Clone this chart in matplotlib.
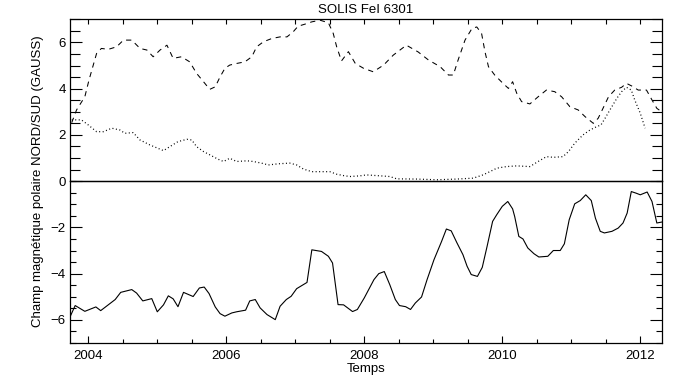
import matplotlib
matplotlib.use('Agg')
import matplotlib.pyplot as plt
from matplotlib.ticker import MultipleLocator

# Data (time in decimal years, field in gauss)
t_south = [2003.74, 2003.81, 2003.95, 2004.11, 2004.18, 2004.39, 2004.47, 2004.63, 2004.70,
           2004.79, 2004.92, 2005.00, 2005.09, 2005.16, 2005.23, 2005.30, 2005.38, 2005.52,
           2005.61, 2005.68, 2005.75, 2005.84, 2005.91, 2005.98, 2006.08, 2006.15, 2006.28,
           2006.34, 2006.42, 2006.49, 2006.59, 2006.71, 2006.78, 2006.87, 2006.94, 2007.02,
           2007.17, 2007.24, 2007.38, 2007.48, 2007.54, 2007.62, 2007.70, 2007.83, 2007.90,
           2008.00, 2008.14, 2008.21, 2008.29, 2008.37, 2008.45, 2008.51, 2008.60, 2008.67,
           2008.74, 2008.83, 2008.91, 2009.01, 2009.12, 2009.19, 2009.26, 2009.34, 2009.43,
           2009.49, 2009.55, 2009.64, 2009.71, 2009.78, 2009.86, 2009.92, 2010.00, 2010.08,
           2010.15, 2010.18, 2010.24, 2010.30, 2010.37, 2010.46, 2010.53, 2010.66, 2010.74,
           2010.84, 2010.90, 2010.97, 2011.05, 2011.13, 2011.21, 2011.29, 2011.35, 2011.42,
           2011.48, 2011.59, 2011.68, 2011.75, 2011.81, 2011.87, 2011.94, 2012.00, 2012.10,
           2012.17, 2012.24, 2012.31]
b_south = [-5.84, -5.38, -5.63, -5.44, -5.60, -5.12, -4.81, -4.69, -4.84,
           -5.18, -5.08, -5.65, -5.35, -4.96, -5.09, -5.43, -4.81, -4.99,
           -4.62, -4.58, -4.86, -5.44, -5.73, -5.84, -5.70, -5.65, -5.58,
           -5.18, -5.12, -5.48, -5.77, -5.99, -5.41, -5.12, -4.98, -4.65,
           -4.38, -2.97, -3.04, -3.25, -3.54, -5.34, -5.35, -5.64, -5.55,
           -5.05, -4.26, -4.00, -3.91, -4.48, -5.12, -5.38, -5.43, -5.55,
           -5.27, -5.01, -4.26, -3.40, -2.61, -2.07, -2.15, -2.65, -3.18,
           -3.68, -4.04, -4.12, -3.73, -2.82, -1.74, -1.45, -1.09, -0.88,
           -1.20, -1.53, -2.39, -2.50, -2.89, -3.14, -3.28, -3.25, -3.00,
           -3.00, -2.71, -1.67, -0.98, -0.84, -0.59, -0.84, -1.60, -2.17,
           -2.24, -2.17, -2.03, -1.81, -1.38, -0.45, -0.52, -0.59, -0.47,
           -0.88, -1.81, -1.77]

t_north = [2003.76, 2003.83, 2003.95, 2004.01, 2004.12, 2004.19, 2004.29, 2004.41, 2004.51,
           2004.63, 2004.75, 2004.85, 2004.94, 2005.04, 2005.14, 2005.23, 2005.35, 2005.47,
           2005.57, 2005.67, 2005.76, 2005.84, 2005.91, 2005.98, 2006.05, 2006.15, 2006.27,
           2006.37, 2006.44, 2006.54, 2006.66, 2006.78, 2006.88, 2006.97, 2007.04, 2007.14,
           2007.24, 2007.36, 2007.48, 2007.55, 2007.60, 2007.67, 2007.77, 2007.87, 2007.99,
           2008.13, 2008.28, 2008.42, 2008.61, 2008.78, 2008.93, 2009.10, 2009.22, 2009.29,
           2009.36, 2009.46, 2009.56, 2009.63, 2009.70, 2009.75, 2009.80, 2009.89, 2010.01,
           2010.09, 2010.15, 2010.21, 2010.28, 2010.40, 2010.52, 2010.64, 2010.76, 2010.86,
           2010.98, 2011.10, 2011.20, 2011.32, 2011.39, 2011.46, 2011.54, 2011.63, 2011.73,
           2011.80, 2011.88, 2011.97, 2012.09, 2012.17, 2012.24, 2012.31]
b_north = [2.53, 3.08, 3.65, 4.37, 5.52, 5.74, 5.70, 5.81, 6.10,
           6.10, 5.74, 5.67, 5.38, 5.67, 5.88, 5.31, 5.38, 5.16,
           4.66, 4.30, 3.97, 4.08, 4.51, 4.88, 5.02, 5.09, 5.16,
           5.38, 5.81, 6.03, 6.17, 6.24, 6.24, 6.46, 6.70, 6.79,
           6.89, 6.96, 6.85, 6.39, 5.81, 5.20, 5.60, 5.09, 4.88,
           4.73, 5.02, 5.45, 5.88, 5.59, 5.24, 4.95, 4.59, 4.59,
           5.24, 6.10, 6.60, 6.67, 6.39, 5.59, 4.95, 4.59, 4.23,
           4.01, 4.30, 3.80, 3.44, 3.34, 3.65, 3.94, 3.87, 3.65,
           3.22, 3.08, 2.79, 2.50, 2.72, 3.15, 3.65, 3.94, 4.06,
           4.23, 4.11, 3.94, 3.94, 3.51, 3.15, 3.00]

t_diff = [2003.76, 2003.90, 2004.00, 2004.12, 2004.22, 2004.34, 2004.46, 2004.53, 2004.65,
          2004.75, 2004.89, 2005.01, 2005.09, 2005.18, 2005.30, 2005.43, 2005.50, 2005.57,
          2005.67, 2005.76, 2005.88, 2005.96, 2006.05, 2006.15, 2006.30, 2006.39, 2006.51,
          2006.61, 2006.75, 2006.92, 2007.02, 2007.12, 2007.24, 2007.50, 2007.60, 2007.70,
          2007.79, 2007.94, 2008.03, 2008.23, 2008.37, 2008.47, 2008.76, 2009.05, 2009.34,
          2009.58, 2009.72, 2009.82, 2009.92, 2010.06, 2010.21, 2010.40, 2010.52, 2010.64,
          2010.74, 2010.88, 2010.96, 2011.05, 2011.17, 2011.27, 2011.37, 2011.43, 2011.49,
          2011.56, 2011.66, 2011.73, 2011.80, 2011.87, 2011.92, 2012.00, 2012.07]
b_diff = [2.65, 2.65, 2.43, 2.14, 2.14, 2.29, 2.21, 2.07, 2.10,
          1.78, 1.57, 1.42, 1.32, 1.49, 1.71, 1.81, 1.78, 1.49,
          1.28, 1.14, 0.95, 0.85, 0.99, 0.85, 0.88, 0.85, 0.78,
          0.70, 0.75, 0.78, 0.70, 0.52, 0.41, 0.41, 0.30, 0.24,
          0.20, 0.23, 0.27, 0.23, 0.20, 0.10, 0.09, 0.06, 0.09,
          0.13, 0.27, 0.41, 0.56, 0.63, 0.66, 0.63, 0.85, 1.06,
          1.03, 1.06, 1.28, 1.64, 2.00, 2.21, 2.36, 2.43, 2.72,
          3.08, 3.58, 3.87, 4.06, 3.94, 3.51, 2.94, 2.29]

year_ticks = [2004, 2006, 2008, 2010, 2012]

plt.rcParams['font.family'] = ['Liberation Sans', 'DejaVu Sans']
plt.rcParams['font.size'] = 9.5

fig = plt.figure(figsize=(6.83, 3.84), dpi=100, facecolor='white')
left, width = 70 / 683, 592 / 683
bot, top = 41 / 384, 364.7 / 384
mid = (bot + top) / 2

ax_up = fig.add_axes([left, mid, width, top - mid])
ax_lo = fig.add_axes([left, bot, width, mid - bot])

xlim = (2003.735, 2012.315)

# upper panel: north (dashed) and dotted curve
ax_up.plot(t_north, b_north, color='black', lw=0.75, linestyle=(0, (5, 4.5)))
ax_up.plot(t_diff, b_diff, color='black', lw=0.9, linestyle=(0, (0.8, 2.0)))
ax_up.set_xlim(*xlim)
ax_up.set_ylim(0, 7)
ax_up.set_yticks([0, 2, 4, 6])
ax_up.yaxis.set_minor_locator(MultipleLocator(0.5))
ax_up.set_xticks(year_ticks)
ax_up.xaxis.set_minor_locator(MultipleLocator(0.5))
ax_up.tick_params(axis='x', which='both', direction='in', top=True, bottom=False,
                  labelbottom=False, length=3.6, width=0.8)
ax_up.tick_params(axis='y', which='major', direction='in', left=True, right=True,
                  length=8.6, width=0.8, pad=3)
ax_up.tick_params(axis='y', which='minor', direction='in', left=True, right=True,
                  length=7.2, width=0.8)

# lower panel: south (solid)
ax_lo.plot(t_south, b_south, color='black', lw=0.8)
ax_lo.set_xlim(*xlim)
ax_lo.set_ylim(-7, 0)
ax_lo.set_yticks([-6, -4, -2])
ax_lo.yaxis.set_minor_locator(MultipleLocator(0.5))
ax_lo.set_xticks(year_ticks)
ax_lo.xaxis.set_minor_locator(MultipleLocator(0.5))
ax_lo.tick_params(axis='x', which='major', direction='in', bottom=True, top=False,
                  length=5, width=0.8, pad=5)
ax_lo.tick_params(axis='x', which='minor', direction='in', bottom=True, top=False,
                  length=2.9, width=0.8)
ax_lo.tick_params(axis='y', which='major', direction='in', left=True, right=True,
                  length=8.6, width=0.8, pad=3)
ax_lo.tick_params(axis='y', which='minor', direction='in', left=True, right=True,
                  length=4.3, width=0.8)
ax_lo.set_yticklabels(['\u22126', '\u22124', '\u22122'])

for ax in (ax_up, ax_lo):
    for s in ax.spines.values():
        s.set_linewidth(0.9)
    ax.set_facecolor('none')

fig.text(366 / 683, 1 - 10 / 384, 'SOLIS FeI 6301', ha='center', va='center')
fig.text(366 / 683, 1 - 369 / 384, 'Temps', ha='center', va='center')
fig.text(38 / 683, 1 - 181 / 384, 'Champ magn\u00e9tique polaire NORD/SUD (GAUSS)',
         ha='center', va='center', rotation=90)

fig.savefig('out.png', dpi=100, facecolor='white')
